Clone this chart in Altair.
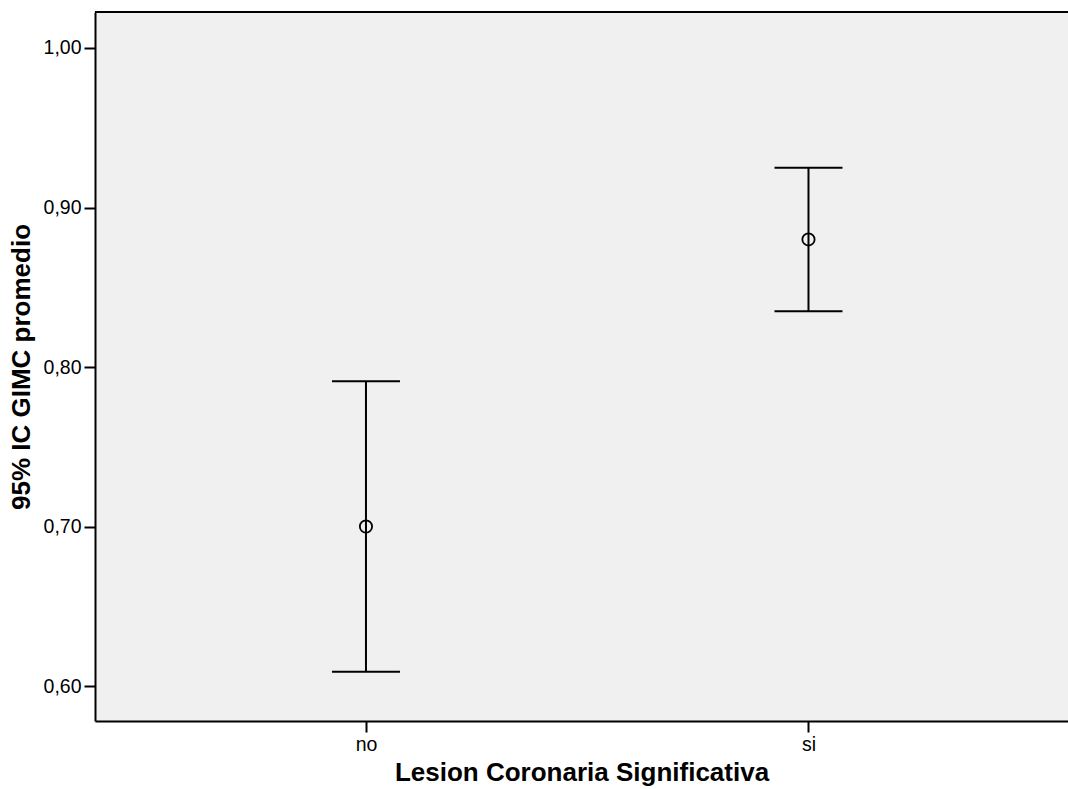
import altair as alt
import pandas as pd

categories = ["no", "si"]
means = [0.700, 0.880]
lower = [0.609, 0.835]
upper = [0.791, 0.925]
y_ticks = [0.6, 0.7, 0.8, 0.9, 1.0]

df = pd.DataFrame({"cat": categories, "mean": means, "lo": lower, "hi": upper})

W, H = 973, 709
FONT = "Liberation Sans"

xenc = alt.X("cat:N", scale=alt.Scale(type="point", padding=0.5994, align=0.5108, round=False),
             axis=alt.Axis(title="Lesion Coronaria Significativa", labelAngle=0))
yscale = alt.Scale(domain=[0.57806, 1.02257], nice=False, zero=False)
yaxis = alt.Axis(title="95% IC GIMC promedio", values=y_ticks,
                 labelExpr="replace(format(datum.value, '.2f'), '.', ',')")

base = alt.Chart(df)

whisker = base.mark_rule(color="black", strokeWidth=2).encode(
    x=xenc, y=alt.Y("lo:Q", scale=yscale, axis=yaxis), y2="hi:Q")
cap_lo = base.mark_tick(color="black", size=68, thickness=2, opacity=1).encode(x=xenc, y=alt.Y("lo:Q", scale=yscale, axis=yaxis))
cap_hi = base.mark_tick(color="black", size=68, thickness=2, opacity=1).encode(x=xenc, y=alt.Y("hi:Q", scale=yscale, axis=yaxis))
pt = base.mark_point(shape="circle", filled=False, color="black", size=150, strokeWidth=1.8, opacity=1).encode(
    x=xenc, y=alt.Y("mean:Q", scale=yscale, axis=yaxis))
top_border = alt.Chart(pd.DataFrame({"a": [0]})).mark_rule(color="black", strokeWidth=2).encode(
    y=alt.value(0), x=alt.value(0), x2=alt.value(W))

chart = alt.layer(whisker, cap_lo, cap_hi, pt, top_border).properties(
    width=W, height=H,
    autosize=alt.AutoSizeParams(type="none"),
    padding={"left": 95, "top": 12, "right": 0, "bottom": 68},
).configure_view(
    fill="#F0F0F0", stroke=None
).configure_axis(
    grid=False, domainColor="black", domainWidth=2, tickColor="black", tickWidth=2, tickSize=11,
    labelFont=FONT, labelFontSize=19.5, labelColor="black", labelPadding=3,
    titleFont=FONT, titleFontSize=26, titleFontWeight="bold", titleColor="black"
).configure_axisY(
    titlePadding=9
).configure_axisX(
    titlePadding=6
)

chart.save("out.html", embed_options={"renderer": "svg", "actions": False})
